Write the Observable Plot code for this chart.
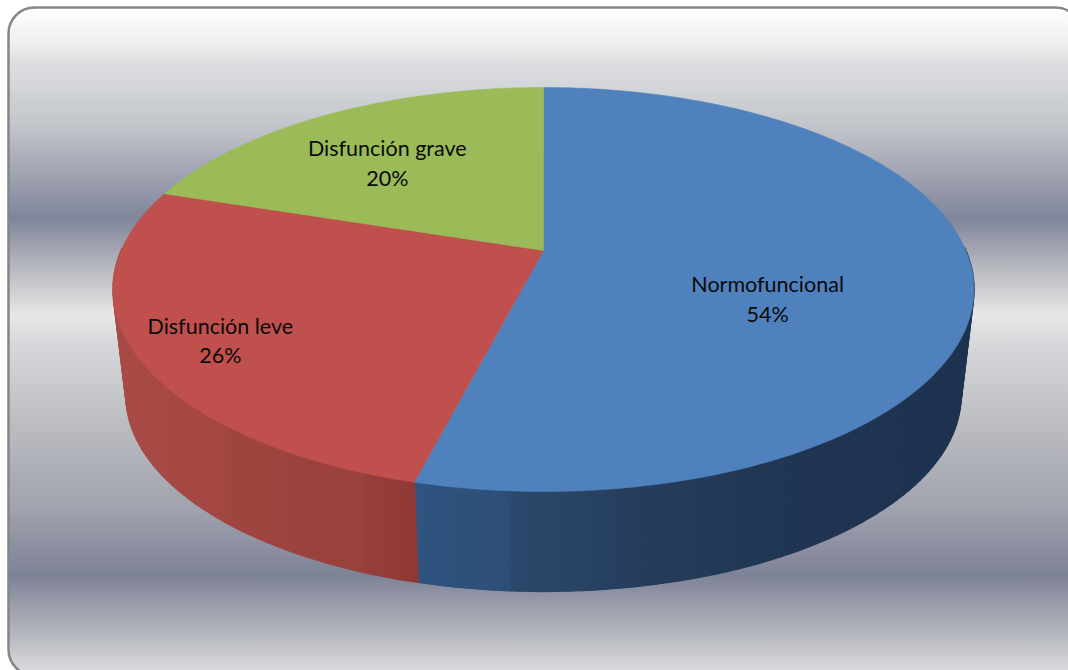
<!DOCTYPE html>
<html lang="es">
<head>
<meta charset="utf-8">
<title>Función</title>
<script src="https://cdn.jsdelivr.net/npm/d3@7"></script>
<script src="https://cdn.jsdelivr.net/npm/@observablehq/plot@0.6"></script>
<style>
  html, body { margin: 0; padding: 0; background: #fff; overflow: hidden; }
</style>
</head>
<body>
<div id="chart"></div>
<script>
// Chart values
const categories = ["Normofuncional", "Disfunción leve", "Disfunción grave"];
const shares = [54, 26, 20];
const topColors = ["#4f81bd", "#c0504d", "#9bbb59"];

// Perspective of the tilted disc: points nearer the viewer spread further apart.
const tilt = 0.193;
const arcStep = 0.4;      // length of one rim chord, in share units
const baseDrop = 0.551;   // thickness of the disc in plane units
const baseScale = 0.97;   // the underside sits further from the viewer

const total = d3.sum(shares);
const cumulative = d3.cumsum(shares);

// Project a point at a share position (clockwise from 12 o'clock) and radius.
function project(share, radius = 1) {
  const a = (share / total) * 2 * Math.PI;
  const u = radius * Math.sin(a);
  const v = -radius * Math.cos(a);
  const w = 1 - tilt * v;
  return {x: u / w, y: v / w};
}
const underside = (share) => {
  const p = project(share);
  return {x: p.x * baseScale, y: p.y * baseScale + baseDrop};
};

function arcShares(start, end) {
  const n = Math.max(2, Math.ceil((end - start) / arcStep));
  return d3.range(n + 1).map((i) => start + ((end - start) * i) / n);
}

const topFaces = categories.map((category, i) => {
  const start = i ? cumulative[i - 1] : 0;
  const rim = arcShares(start, cumulative[i]).map((s) => project(s));
  return {category, points: [{x: 0, y: 0}, ...rim, {x: 0, y: 0}]};
});

// The wall is built from narrow quads so the outline stays clean at the silhouette.
// Only the front half of the rim can show below the top face.
const wallQuads = categories.flatMap((category, i) => {
  const start = i ? cumulative[i - 1] : 0;
  const steps = arcShares(start, cumulative[i]);
  return d3.pairs(steps)
    .filter(([a, b]) => project(a).y >= 0 || project(b).y >= 0)
    .map(([a, b], k) => ({
      category,
      key: `${i}-${k}`,
      points: [project(a), project(b), underside(b), underside(a), project(a)]
    }));
});

const wallPoints = wallQuads.flatMap((q) =>
  q.points.map((p) => ({...p, key: q.key, category: q.category}))
);
const topPoints = topFaces.flatMap((f) =>
  f.points.map((p) => ({...p, category: f.category}))
);

// Gradients shared by the panel and the side wall of the disc.
function gradientDefs() {
  const defs = d3.create("svg:defs");
  const panel = defs.append("linearGradient")
    .attr("id", "panel").attr("x1", 0).attr("y1", 0).attr("x2", 0).attr("y2", 1);
  [
    [0, "#ffffff"], [0.05, "#f0f0f0"], [0.087, "#dcdde0"], [0.14, "#cdd0d3"], [0.185, "#bfc1c8"],
    [0.316, "#80859a"], [0.385, "#b4b6bd"], [0.46, "#e6e6e6"], [0.51, "#d5d6d9"],
    [0.61, "#bfc0c4"], [0.75, "#a0a2ad"], [0.85, "#7e8296"], [0.93, "#b0b2ba"], [1, "#dedfe2"]
  ].forEach(([o, c]) => panel.append("stop").attr("offset", o).attr("stop-color", c));

  const wall = (id, stops) => {
    const g = defs.append("linearGradient")
      .attr("id", id).attr("gradientUnits", "userSpaceOnUse")
      .attr("x1", 112).attr("y1", 0).attr("x2", 973).attr("y2", 0);
    stops.forEach(([o, c]) => g.append("stop").attr("offset", o).attr("stop-color", c));
  };
  wall("wallBlue", [
    [0.35, "#2f5480"], [0.46, "#2d4e77"], [0.465, "#2b486c"],
    [0.62, "#253d5c"], [0.8, "#1f3551"], [1, "#1d324e"]
  ]);
  wall("wallRed", [
    [0, "#a84a46"], [0.128, "#a44743"], [0.135, "#a0443f"],
    [0.29, "#9a413d"], [0.297, "#963e3a"], [0.36, "#8f3733"]
  ]);
  return defs.node();
}

const wallFill = {
  "Normofuncional": "url(#wallBlue)",
  "Disfunción leve": "url(#wallRed)",
  "Disfunción grave": "#76923c"
};

const labelMark = (i, dx, dy) => {
  const start = i ? cumulative[i - 1] : 0;
  const p = project((start + cumulative[i]) / 2, 0.6);
  return Plot.text([p], {
    x: "x", y: "y", dx, dy,
    text: () => `${categories[i]}\n${shares[i]}%`,
    fontFamily: "Lato, 'Open Sans', sans-serif",
    fontSize: 21.5,
    lineHeight: 1.38,
    fill: "#0a0a0a"
  });
};

const chart = Plot.plot({
  width: 1068,
  height: 670,
  marginLeft: 8,
  marginTop: 7,
  marginRight: -13,
  marginBottom: 0,
  style: {background: "#fff"},
  x: {axis: null, domain: [-1, 1], range: [543 - 422.4, 543 + 422.4]},
  y: {axis: null, domain: [-1, 1], range: [250 - 194.5, 250 + 194.5]},
  marks: [
    gradientDefs,
    Plot.frame({rx: 26, fill: "url(#panel)", stroke: "#868686", strokeWidth: 2.5, strokeOpacity: 1, insetBottom: -5}),
    Plot.line(wallPoints, {
      x: "x", y: "y", z: "key", curve: "linear",
      fill: (d) => wallFill[d.category],
      stroke: (d) => wallFill[d.category],
      strokeWidth: 1.4
    }),
    Plot.line(topPoints, {
      x: "x", y: "y", z: "category", curve: "linear",
      fill: (d) => topColors[categories.indexOf(d.category)],
      stroke: (d) => topColors[categories.indexOf(d.category)],
      strokeWidth: 0.5
    }),
    labelMark(0, -31, 32),
    labelMark(1, -88, 29),
    labelMark(2, -20, -3)
  ]
});

document.getElementById("chart").append(chart);
</script>
</body>
</html>
